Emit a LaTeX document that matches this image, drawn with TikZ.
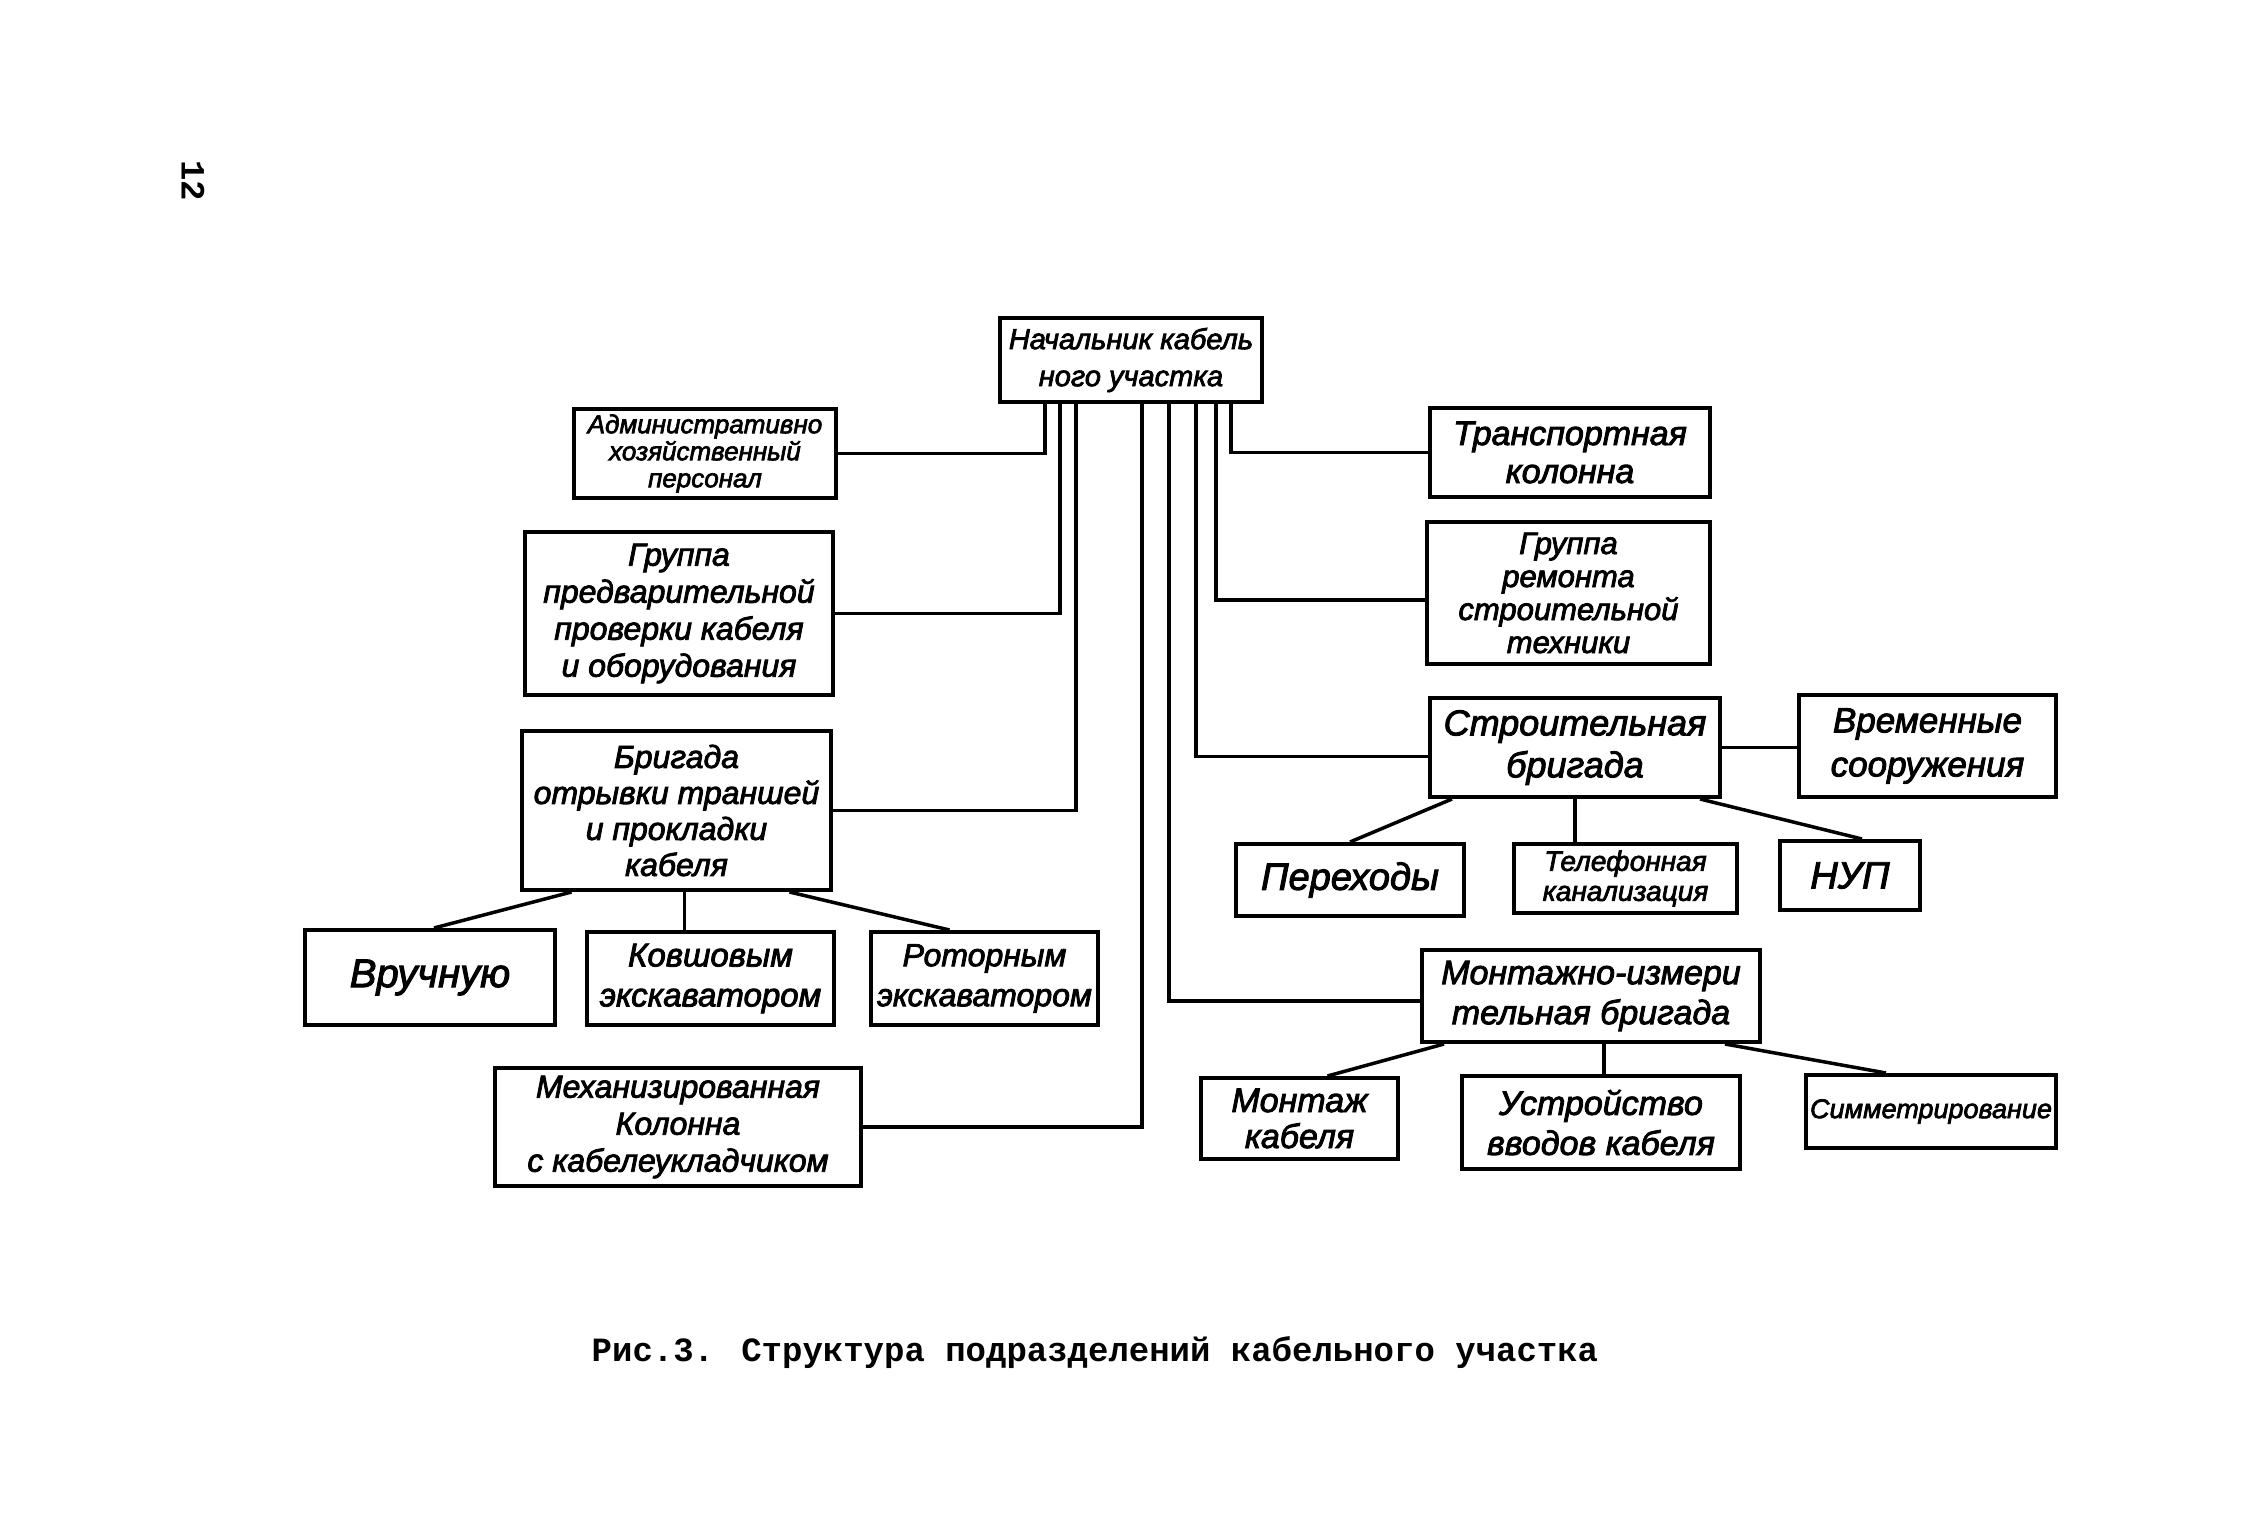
\documentclass[tikz,border=0pt]{standalone}
\usepackage{fontspec}
\setmainfont{Liberation Sans}
\newfontfamily\hwfont{Liberation Sans Italic}[FakeBold=2.5]
\newfontfamily\monof{Liberation Mono}
\newcommand\hfs[2]{\hwfont\fontsize{#1}{#2}\selectfont}
\begin{document}
\begin{tikzpicture}[x=1pt,y=-1pt,
  bx/.style={draw, line width=4pt, inner sep=0pt, align=center},
  ln/.style={line width=3.5pt}]
\fill[white] (0,0) rectangle (2244,1536);
\useasboundingbox (0,0) rectangle (2244,1536);

% page number and caption
\node[font=\monof\bfseries\fontsize{34}{34}\selectfont, rotate=-90] (pg) at (193,181) {12};
\node[font=\monof\bfseries\fontsize{34}{40}\selectfont] (cap) at (1095,1353) {Рис.3. Структура подразделений кабельного участка};

% boxes
\node[bx, minimum width=262pt, minimum height=84pt, font=\hfs{29}{37}] (top) at (1131,360) {Начальник кабель\\ного участка};
\node[bx, minimum width=262pt, minimum height=89pt, font=\hfs{26}{27}] (adm) at (705,453.5) {Административно\\хозяйственный\\персонал};
\node[bx, minimum width=308pt, minimum height=163pt, font=\hfs{32}{37}] (grp) at (679,613.5) {Группа\\предварительной\\проверки кабеля\\и оборудования};
\node[bx, minimum width=309pt, minimum height=159pt, font=\hfs{32}{36}] (brig) at (676.5,810.5) {Бригада\\отрывки траншей\\и прокладки\\кабеля};
\node[bx, minimum width=250pt, minimum height=95pt, font=\hfs{40}{40}] (vr) at (430,977.5) {Вручную};
\node[bx, minimum width=247pt, minimum height=93pt, font=\hfs{33}{40}] (kov) at (710.5,978.5) {Ковшовым\\экскаватором};
\node[bx, minimum width=227pt, minimum height=93pt, font=\hfs{32}{40}] (rot) at (984.5,978.5) {Роторным\\экскаватором};
\node[bx, minimum width=366pt, minimum height=118pt, font=\hfs{32}{37}] (mech) at (678,1127) {Механизированная\\Колонна\\с кабелеукладчиком};

\node[bx, minimum width=280pt, minimum height=89pt, font=\hfs{34}{38}] (tr) at (1570,452.5) {Транспортная\\колонна};
\node[bx, minimum width=283pt, minimum height=142pt, font=\hfs{31}{33}] (rem) at (1568.5,593) {Группа\\ремонта\\строительной\\техники};
\node[bx, minimum width=290pt, minimum height=99pt, font=\hfs{36}{42}] (strb) at (1575,747.5) {Строительная\\бригада};
\node[bx, minimum width=257pt, minimum height=102pt, font=\hfs{35}{44}] (vrem) at (1927.5,746) {Временные\\сооружения};
\node[bx, minimum width=228pt, minimum height=72pt, font=\hfs{38}{40}] (per) at (1350,880) {Переходы};
\node[bx, minimum width=223pt, minimum height=69pt, font=\hfs{28}{30}] (tel) at (1625.5,878.5) {Телефонная\\канализация};
\node[bx, minimum width=140pt, minimum height=69pt, font=\hfs{38}{40}] (nup) at (1850,875.5) {НУП};
\node[bx, minimum width=338pt, minimum height=92pt, font=\hfs{34}{40}] (mib) at (1591,996) {Монтажно-измери\\тельная бригада};
\node[bx, minimum width=197pt, minimum height=81pt, font=\hfs{34}{36}] (mk) at (1299.5,1118.5) {Монтаж\\кабеля};
\node[bx, minimum width=278pt, minimum height=93pt, font=\hfs{34}{40}] (ust) at (1601,1122.5) {Устройство\\вводов кабеля};
\node[bx, minimum width=250pt, minimum height=73pt, font=\hfs{27}{30}] (sim) at (1931,1111.5) {Симметрирование};

% connectors from the head
\draw[ln] ([xshift=-86pt]top.south) |- (adm.east);
\draw[ln] ([xshift=-71pt]top.south) |- (grp.east);
\draw[ln] ([xshift=-55pt]top.south) |- (brig.east);
\draw[ln] ([xshift=11pt]top.south) |- (mech.east);
\draw[ln] ([xshift=38pt]top.south) |- ([yshift=-5pt]mib.west);
\draw[ln] ([xshift=65pt]top.south) |- ([yshift=-9pt]strb.west);
\draw[ln] ([xshift=85pt]top.south) |- ([yshift=-7pt]rem.west);
\draw[ln] ([xshift=100pt]top.south) |- (tr.west);

% sub-connectors
\draw[ln] ([xshift=-105pt]brig.south) -- ([xshift=4pt]vr.north);
\draw[ln] ([xshift=8pt]brig.south) -- ([xshift=8pt]brig.south |- kov.north);
\draw[ln] ([xshift=113pt]brig.south) -- ([xshift=-35pt]rot.north);

\draw[ln] ([xshift=-123pt]strb.south) -- (per.north);
\draw[ln] (strb.south) -- (strb.south |- tel.north);
\draw[ln] ([xshift=125pt]strb.south) -- ([xshift=12pt]nup.north);
\draw[ln] (strb.east) -- (strb.east -| vrem.west);

\draw[ln] ([xshift=-147pt]mib.south) -- ([xshift=28pt]mk.north);
\draw[ln] ([xshift=13pt]mib.south) -- ([xshift=13pt]mib.south |- ust.north);
\draw[ln] ([xshift=134pt]mib.south) -- ([xshift=-45pt]sim.north);
\end{tikzpicture}
\end{document}
